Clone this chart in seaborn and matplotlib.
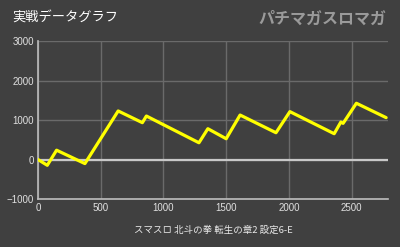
import matplotlib
matplotlib.use("Agg")
import matplotlib.pyplot as plt
import seaborn as sns
import pandas as pd

games = [0, 74, 148, 374, 639, 832, 864, 1283, 1354, 1500, 1611, 1897, 2008, 2361, 2414, 2432, 2538, 2775]
diff = [0, -145, 237, -102, 1230, 933, 1102, 425, 781, 527, 1127, 679, 1213, 654, 949, 916, 1425, 1061]
xticks = [0, 500, 1000, 1500, 2000, 2500]
yticks = [-1000, 0, 1000, 2000, 3000]
title = "実戦データグラフ"
xlabel = "スマスロ 北斗の拳 転生の章2 設定6-E"
logo = "パチマガスロマガ"

sns.set_style("dark")
plt.rcParams['font.family'] = ['Liberation Sans', 'Noto Sans CJK JP', 'DejaVu Sans']
bg = "#404040"
fig = plt.figure(figsize=(4, 2.47), dpi=100, facecolor=bg)
ax = fig.add_axes([0.095, 0.194, 0.875, 0.64], facecolor=bg)

df = pd.DataFrame({"g": games, "d": diff})
ax.set_xlim(0, 2790)
ax.set_ylim(-1000, 3000)
ax.set_xticks(xticks)
ax.set_yticks(yticks)
ax.grid(True, color="#6a6a6a", linewidth=1.0)
ax.axhline(0, color="#c8c8c8", linewidth=1.6, zorder=2)
sns.lineplot(data=df, x="g", y="d", sort=False, color="#ffff00", linewidth=2.3, ax=ax, zorder=3)

for s in ["top", "right"]:
    ax.spines[s].set_visible(False)
for s in ["left", "bottom"]:
    ax.spines[s].set_color("#bdbdbd")
    ax.spines[s].set_linewidth(1.2)
ax.tick_params(axis="both", colors="#e0e0e0", labelsize=7, length=0, pad=3)
ax.set_xlabel(xlabel, color="#e8e8e8", fontsize=6.8, labelpad=9,
              family=['Noto Sans CJK JP', 'DejaVu Sans'])
ax.set_ylabel("")

fig.text(0.03, 0.925, title, color="white", fontsize=9.5, ha="left", va="center",
         family=['Noto Sans CJK JP', 'DejaVu Sans'])
fig.text(0.965, 0.925, logo, color="#9a9a9a", fontsize=11.5, fontweight="bold",
         ha="right", va="center", family=['Noto Sans CJK JP', 'DejaVu Sans'])
fig.savefig("out.png", dpi=100, facecolor=bg)
